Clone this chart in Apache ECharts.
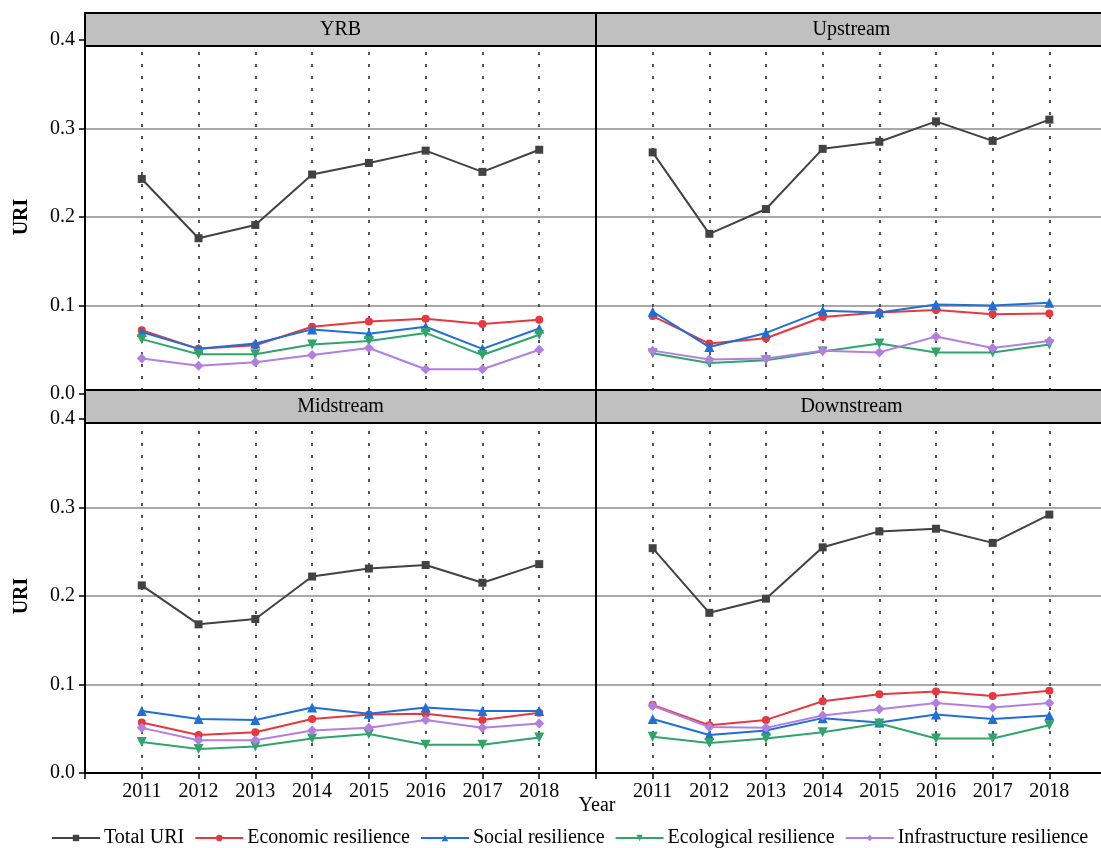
<!DOCTYPE html>
<html>
<head>
<meta charset="utf-8">
<title>URI by region, 2011-2018</title>
<script src="https://cdn.jsdelivr.net/npm/echarts@6/dist/echarts.min.js"></script>
<style>
  html, body { margin: 0; padding: 0; background: #ffffff; }
  #chart { width: 1101px; height: 848px; }
</style>
</head>
<body>
<div id="chart"></div>
<script>
// Years on the x axis
const years = [2011, 2012, 2013, 2014, 2015, 2016, 2017, 2018];
const yTicks = [0.0, 0.1, 0.2, 0.3, 0.4];

// Yellow River Basin (whole basin)
const yrbTotal     = [0.243, 0.176, 0.191, 0.248, 0.261, 0.275, 0.251, 0.276];
const yrbEconomic  = [0.072, 0.051, 0.055, 0.076, 0.082, 0.085, 0.079, 0.084];
const yrbSocial    = [0.070, 0.051, 0.057, 0.073, 0.068, 0.076, 0.051, 0.074];
const yrbEcology   = [0.062, 0.045, 0.045, 0.056, 0.060, 0.069, 0.044, 0.067];
const yrbInfra     = [0.040, 0.032, 0.036, 0.044, 0.052, 0.028, 0.028, 0.050];

// Upstream
const upTotal      = [0.273, 0.181, 0.209, 0.277, 0.285, 0.308, 0.286, 0.310];
const upEconomic   = [0.088, 0.057, 0.063, 0.087, 0.092, 0.095, 0.090, 0.091];
const upSocial     = [0.093, 0.053, 0.069, 0.094, 0.092, 0.101, 0.100, 0.103];
const upEcology    = [0.046, 0.035, 0.038, 0.048, 0.057, 0.047, 0.047, 0.056];
const upInfra      = [0.049, 0.039, 0.040, 0.049, 0.047, 0.065, 0.052, 0.060];

// Midstream
const midTotal     = [0.212, 0.168, 0.174, 0.222, 0.231, 0.235, 0.215, 0.236];
const midEconomic  = [0.057, 0.043, 0.046, 0.061, 0.066, 0.067, 0.060, 0.068];
const midSocial    = [0.070, 0.061, 0.060, 0.074, 0.067, 0.074, 0.070, 0.070];
const midEcology   = [0.035, 0.027, 0.030, 0.039, 0.044, 0.032, 0.032, 0.040];
const midInfra     = [0.051, 0.037, 0.037, 0.048, 0.051, 0.060, 0.051, 0.056];

// Downstream
const downTotal    = [0.254, 0.181, 0.197, 0.255, 0.273, 0.276, 0.260, 0.292];
const downEconomic = [0.077, 0.054, 0.060, 0.081, 0.089, 0.092, 0.087, 0.093];
const downSocial   = [0.061, 0.043, 0.048, 0.062, 0.057, 0.066, 0.061, 0.065];
const downEcology  = [0.041, 0.034, 0.039, 0.046, 0.056, 0.039, 0.039, 0.054];
const downInfra    = [0.076, 0.052, 0.051, 0.065, 0.072, 0.079, 0.074, 0.079];

const panelTitles = ['YRB', 'Upstream', 'Midstream', 'Downstream'];
const seriesNames = ['Total URI', 'Economic resilience', 'Social resilience',
                     'Ecological resilience', 'Infrastructure resilience'];

const panels = [
  [yrbTotal, yrbEconomic, yrbSocial, yrbEcology, yrbInfra],
  [upTotal, upEconomic, upSocial, upEcology, upInfra],
  [midTotal, midEconomic, midSocial, midEcology, midInfra],
  [downTotal, downEconomic, downSocial, downEcology, downInfra]
];

const FONT = '"Liberation Serif", "Times New Roman", serif';
const colors = ['#424242', '#e5393f', '#1f6fd6', '#2fa56a', '#b27fe0'];
const symbols = ['rect', 'circle', 'triangle', 'triangle', 'diamond'];
const symbolSizes = [8, 8, 10, 10, 10];
const symbolRotates = [0, 0, 0, 180, 0];

// Panel layout: two columns, two rows (right column runs past the page edge)
const colLeft = [85, 596];
const colWidth = [511, 510];
const rowTop = [40, 419];
const rowHeight = 354;

const grids = [];
const xAxes = [];
const yAxes = [];
const series = [];

for (let p = 0; p < 4; p++) {
  const col = p % 2;
  const row = Math.floor(p / 2);
  const isBottom = row === 1;
  const isLeft = col === 0;

  grids.push({
    left: colLeft[col], top: rowTop[row], width: colWidth[col], height: rowHeight,
    outerBoundsMode: 'none', containLabel: false
  });

  xAxes.push({
    type: 'value', gridIndex: p, min: 2010, max: 2019, interval: 1,
    axisLine: { show: isBottom, onZero: false, lineStyle: { color: '#000', width: 2 } },
    axisTick: { show: isBottom, length: 6, lineStyle: { color: '#000', width: 1.5 } },
    axisLabel: {
      show: isBottom, margin: 9, color: '#000', fontFamily: FONT, fontSize: 20,
      formatter: v => (v >= years[0] && v <= years[years.length - 1]) ? String(v) : ''
    },
    splitLine: { show: true, lineStyle: { color: '#555', width: 2, type: [3, 9] } }
  });

  yAxes.push({
    type: 'value', gridIndex: p, min: yTicks[0], max: yTicks[yTicks.length - 1], interval: 0.1,
    name: isLeft ? 'URI' : '', nameLocation: 'middle', nameGap: 53,
    nameTextStyle: { fontFamily: FONT, fontSize: 20, fontWeight: 'bold', color: '#000' },
    axisLine: { show: true, lineStyle: { color: '#000', width: 2 } },
    axisTick: { show: isLeft, length: 6, lineStyle: { color: '#000', width: 1.5 } },
    axisLabel: {
      show: isLeft, margin: 10, color: '#000', fontFamily: FONT, fontSize: 20,
      formatter: v => v.toFixed(1)
    },
    splitLine: { show: true, lineStyle: { color: '#8c8c8c', width: 1.5 } }
  });

  panels[p].forEach((values, s) => {
    series.push({
      name: seriesNames[s], type: 'line', xAxisIndex: p, yAxisIndex: p,
      data: years.map((y, i) => [y, values[i]]),
      symbol: symbols[s], symbolSize: symbolSizes[s], symbolRotate: symbolRotates[s],
      showSymbol: true,
      lineStyle: { color: colors[s], width: 2 },
      itemStyle: { color: colors[s] },
      z: 3 + s
    });
  });
}

// Grey title strips above each panel
const graphics = [];
const stripTop = [13, 390];
const stripHeight = 33;
for (let p = 0; p < 4; p++) {
  const col = p % 2;
  const row = Math.floor(p / 2);
  graphics.push({
    type: 'rect', z: 100,
    shape: { x: colLeft[col], y: stripTop[row], width: colWidth[col], height: stripHeight },
    style: { fill: '#c0c0c0', stroke: '#000', lineWidth: 2 }
  });
  graphics.push({
    type: 'text', z: 101,
    x: colLeft[col] + 511 / 2, y: stripTop[row] + stripHeight / 2,
    style: {
      text: panelTitles[p], font: '20px ' + FONT, fill: '#000',
      align: 'center', verticalAlign: 'middle'
    }
  });
}
graphics.push({
  type: 'text', z: 101, x: 597, y: 806,
  style: { text: 'Year', font: '20px ' + FONT, fill: '#000', align: 'center', verticalAlign: 'middle' }
});

const chart = echarts.init(document.getElementById('chart'), null, { renderer: 'canvas' });
chart.setOption({
  animation: false,
  backgroundColor: '#ffffff',
  grid: grids,
  xAxis: xAxes,
  yAxis: yAxes,
  legend: {
    data: seriesNames,
    left: 46, top: 823,
    itemWidth: 48, itemHeight: 8, itemGap: 10,
    textStyle: { fontFamily: FONT, fontSize: 20, color: '#000', padding: [0, 0, 0, -1] }
  },
  graphic: graphics,
  series: series
});
</script>
</body>
</html>
